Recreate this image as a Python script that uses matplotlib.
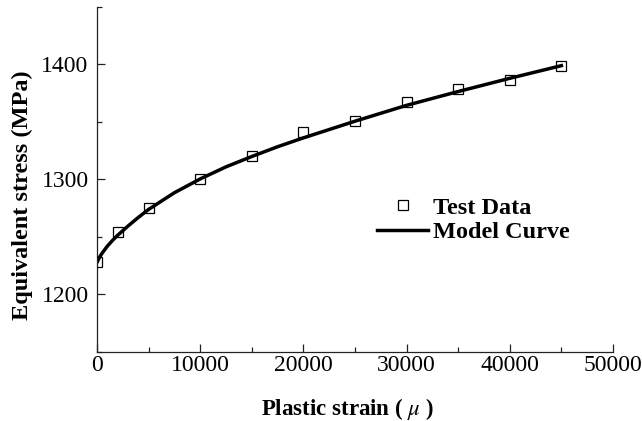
import matplotlib
matplotlib.use("Agg")
import matplotlib.pyplot as plt
from matplotlib.ticker import MultipleLocator

plt.rcParams['font.family'] = ['Liberation Serif', 'DejaVu Serif']
plt.rcParams['mathtext.fontset'] = 'stix'

# Test data
strain = [0, 2000, 5000, 10000, 15000, 20000, 25000, 30000, 35000, 40000, 45000]
stress = [1228, 1254, 1275, 1300.5, 1320, 1341, 1350.7, 1367.5, 1378.5, 1386.8, 1398.6]

# Model curve
curve_x = [0, 250, 500, 1000, 1500, 2000, 3000, 4000, 5000, 7500, 10000, 12500, 15000,
           17500, 20000, 25000, 30000, 35000, 40000, 45000]
curve_y = [1228, 1232.5, 1236, 1242, 1247, 1251.5, 1259.5, 1267, 1274, 1288.5, 1300.5, 1311, 1320,
           1328.5, 1336.2, 1350.7, 1364.5, 1376.5, 1388, 1399]

fig = plt.figure(figsize=(6.42, 4.21), dpi=100)
ax = fig.add_axes([97/642, 1 - 352/421, (613-97)/642, (352-7)/421])

ax.plot(curve_x, curve_y, color='black', lw=2.5, label='Model Curve', zorder=2)
ax.plot(strain, stress, linestyle='none', marker='s', markersize=6.8, markerfacecolor='none',
        markeredgecolor='black', markeredgewidth=0.9, label='Test Data', zorder=3)

ax.set_xlim(0, 50000)
ax.set_ylim(1150, 1450)
ax.xaxis.set_major_locator(MultipleLocator(10000))
ax.xaxis.set_minor_locator(MultipleLocator(5000))
ax.yaxis.set_major_locator(MultipleLocator(100))
ax.yaxis.set_minor_locator(MultipleLocator(50))

for s in ['top', 'right']:
    ax.spines[s].set_visible(False)
for s in ['left', 'bottom']:
    ax.spines[s].set_linewidth(0.9)
    ax.spines[s].set_color('#222222')

ax.tick_params(which='both', direction='in', color='#222222', width=0.9, labelsize=17)
ax.tick_params(which='major', length=5.5)
ax.tick_params(which='minor', length=3.6)
ax.tick_params(axis='x', pad=2)
ax.tick_params(axis='y', pad=6)

ax.set_xlabel('Plastic strain ( $\\mu$ )', fontsize=16.5, fontweight='bold')
ax.set_ylabel('Equivalent stress (MPa)', fontsize=17.5, fontweight='bold')
ax.xaxis.set_label_coords(0.485, -0.127)
ax.yaxis.set_label_coords(-0.124, 0.455)

handles, labels = ax.get_legend_handles_labels()
leg = ax.legend([handles[1], handles[0]], [labels[1], labels[0]],
                loc='center left', bbox_to_anchor=((377-97)/516, (352-220)/345),
                frameon=False, borderpad=0, borderaxespad=0,
                handlelength=2.1, handletextpad=0.2, labelspacing=0.1,
                prop={'weight': 'bold', 'size': 17.5})

fig.savefig('out.png', dpi=100)
